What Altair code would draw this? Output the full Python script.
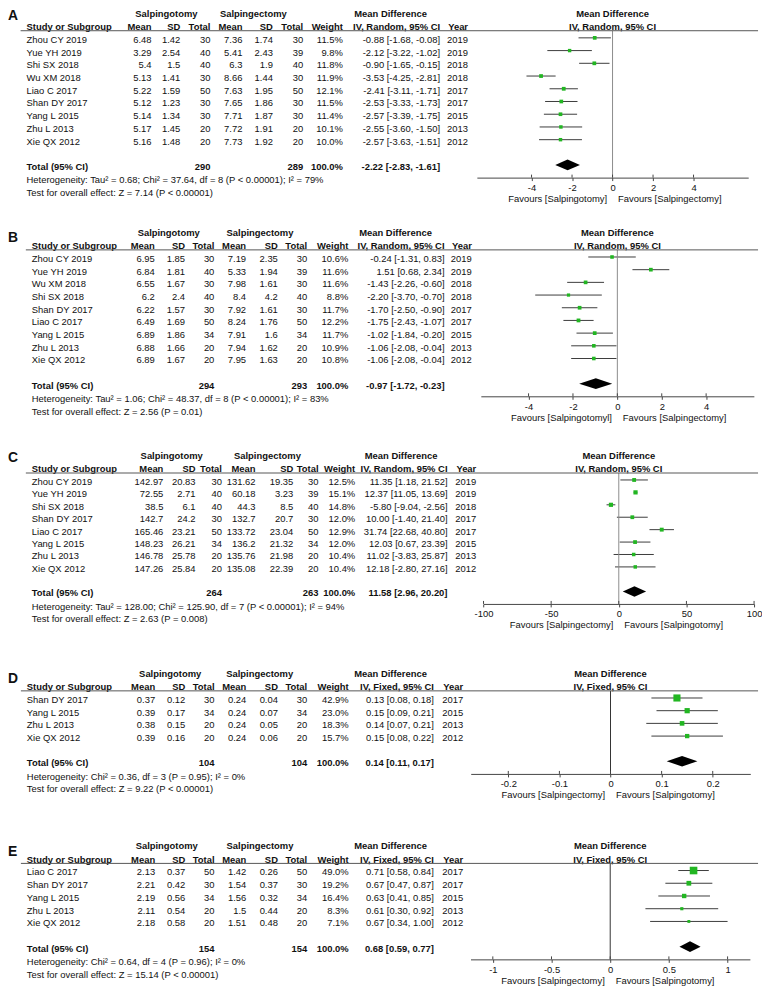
import altair as alt
import pandas as pd

# ------------------------------------------------------------------ data
A_study = ["Zhou CY 2019", "Yue YH 2019", "Shi SX 2018", "Wu XM 2018", "Liao C 2017",
           "Shan DY 2017", "Yang L 2015", "Zhu L 2013", "Xie QX 2012"]
A_mean1 = [6.48, 3.29, 5.4, 5.13, 5.22, 5.12, 5.14, 5.17, 5.16]
A_sd1 = [1.42, 2.54, 1.5, 1.41, 1.59, 1.23, 1.34, 1.45, 1.48]
A_n1 = [30, 40, 40, 30, 50, 30, 30, 20, 20]
A_mean2 = [7.36, 5.41, 6.3, 8.66, 7.63, 7.65, 7.71, 7.72, 7.73]
A_sd2 = [1.74, 2.43, 1.9, 1.44, 1.95, 1.86, 1.87, 1.91, 1.92]
A_n2 = [30, 39, 40, 30, 50, 30, 30, 20, 20]
A_weight = [11.5, 9.8, 11.8, 11.9, 12.1, 11.5, 11.4, 10.1, 10.0]
A_md = [-0.88, -2.12, -0.90, -3.53, -2.41, -2.53, -2.57, -2.55, -2.57]
A_lo = [-1.68, -3.22, -1.65, -4.25, -3.11, -3.33, -3.39, -3.60, -3.63]
A_hi = [-0.08, -1.02, -0.15, -2.81, -1.71, -1.73, -1.75, -1.50, -1.51]
A_year = [2019, 2019, 2018, 2018, 2017, 2017, 2015, 2013, 2012]
A_total = [-2.22, -2.83, -1.61]
A_het = "Heterogeneity: Tau\u00b2 = 0.68; Chi\u00b2 = 37.64, df = 8 (P < 0.00001); I\u00b2 = 79%"
A_test = "Test for overall effect: Z = 7.14 (P < 0.00001)"
A_favours = ["Favours [Salpingotomy]", "Favours [Salpingectomy]"]
A_ticks = [-4, -2, 0, 2, 4]

B_study = ["Zhou CY 2019", "Yue YH 2019", "Wu XM 2018", "Shi SX 2018", "Shan DY 2017",
           "Liao C 2017", "Yang L 2015", "Zhu L 2013", "Xie QX 2012"]
B_mean1 = [6.95, 6.84, 6.55, 6.2, 6.22, 6.49, 6.89, 6.88, 6.89]
B_sd1 = [1.85, 1.81, 1.67, 2.4, 1.57, 1.69, 1.86, 1.66, 1.67]
B_n1 = [30, 40, 30, 40, 30, 50, 34, 20, 20]
B_mean2 = [7.19, 5.33, 7.98, 8.4, 7.92, 8.24, 7.91, 7.94, 7.95]
B_sd2 = [2.35, 1.94, 1.61, 4.2, 1.61, 1.76, 1.6, 1.62, 1.63]
B_n2 = [30, 39, 30, 40, 30, 50, 34, 20, 20]
B_weight = [10.6, 11.6, 11.6, 8.8, 11.7, 12.2, 11.7, 10.9, 10.8]
B_md = [-0.24, 1.51, -1.43, -2.20, -1.70, -1.75, -1.02, -1.06, -1.06]
B_lo = [-1.31, 0.68, -2.26, -3.70, -2.50, -2.43, -1.84, -2.08, -2.08]
B_hi = [0.83, 2.34, -0.60, -0.70, -0.90, -1.07, -0.20, -0.04, -0.04]
B_year = [2019, 2019, 2018, 2018, 2017, 2017, 2015, 2013, 2012]
B_total = [-0.97, -1.72, -0.23]
B_het = "Heterogeneity: Tau\u00b2 = 1.06; Chi\u00b2 = 48.37, df = 8 (P < 0.00001); I\u00b2 = 83%"
B_test = "Test for overall effect: Z = 2.56 (P = 0.01)"
B_favours = ["Favours [Salpingotomyl]", "Favours [Salpingectomy]"]
B_ticks = [-4, -2, 0, 2, 4]

C_study = ["Zhou CY 2019", "Yue YH 2019", "Shi SX 2018", "Shan DY 2017", "Liao C 2017",
           "Yang L 2015", "Zhu L 2013", "Xie QX 2012"]
C_mean1 = [142.97, 72.55, 38.5, 142.7, 165.46, 148.23, 146.78, 147.26]
C_sd1 = [20.83, 2.71, 6.1, 24.2, 23.21, 26.21, 25.78, 25.84]
C_n1 = [30, 40, 40, 30, 50, 34, 20, 20]
C_mean2 = [131.62, 60.18, 44.3, 132.7, 133.72, 136.2, 135.76, 135.08]
C_sd2 = [19.35, 3.23, 8.5, 20.7, 23.04, 21.32, 21.98, 22.39]
C_n2 = [30, 39, 40, 30, 50, 34, 20, 20]
C_weight = [12.5, 15.1, 14.8, 12.0, 12.9, 12.0, 10.4, 10.4]
C_md = [11.35, 12.37, -5.80, 10.00, 31.74, 12.03, 11.02, 12.18]
C_lo = [1.18, 11.05, -9.04, -1.40, 22.68, 0.67, -3.83, -2.80]
C_hi = [21.52, 13.69, -2.56, 21.40, 40.80, 23.39, 25.87, 27.16]
C_year = [2019, 2019, 2018, 2017, 2017, 2015, 2013, 2012]
C_total = [11.58, 2.96, 20.20]
C_het = "Heterogeneity: Tau\u00b2 = 128.00; Chi\u00b2 = 125.90, df = 7 (P < 0.00001); I\u00b2 = 94%"
C_test = "Test for overall effect: Z = 2.63 (P = 0.008)"
C_favours = ["Favours [Salpingectomy]", "Favours [Salpingotomy]"]
C_ticks = [-100, -50, 0, 50, 100]

D_study = ["Shan DY 2017", "Yang L 2015", "Zhu L 2013", "Xie QX 2012"]
D_mean1 = [0.37, 0.39, 0.38, 0.39]
D_sd1 = [0.12, 0.17, 0.15, 0.16]
D_n1 = [30, 34, 20, 20]
D_mean2 = [0.24, 0.24, 0.24, 0.24]
D_sd2 = [0.04, 0.07, 0.05, 0.06]
D_n2 = [30, 34, 20, 20]
D_weight = [42.9, 23.0, 18.3, 15.7]
D_md = [0.13, 0.15, 0.14, 0.15]
D_lo = [0.08, 0.09, 0.07, 0.08]
D_hi = [0.18, 0.21, 0.21, 0.22]
D_year = [2017, 2015, 2013, 2012]
D_total = [0.14, 0.11, 0.17]
D_het = "Heterogeneity: Chi\u00b2 = 0.36, df = 3 (P = 0.95); I\u00b2 = 0%"
D_test = "Test for overall effect: Z = 9.22 (P < 0.00001)"
D_favours = ["Favours [Salpingectomy]", "Favours [Salpingotomy]"]
D_ticks = [-0.2, -0.1, 0, 0.1, 0.2]

E_study = ["Liao C 2017", "Shan DY 2017", "Yang L 2015", "Zhu L 2013", "Xie QX 2012"]
E_mean1 = [2.13, 2.21, 2.19, 2.11, 2.18]
E_sd1 = [0.37, 0.42, 0.56, 0.54, 0.58]
E_n1 = [50, 30, 34, 20, 20]
E_mean2 = [1.42, 1.54, 1.56, 1.5, 1.51]
E_sd2 = [0.26, 0.37, 0.32, 0.44, 0.48]
E_n2 = [50, 30, 34, 20, 20]
E_weight = [49.0, 19.2, 16.4, 8.3, 7.1]
E_md = [0.71, 0.67, 0.63, 0.61, 0.67]
E_lo = [0.58, 0.47, 0.41, 0.30, 0.34]
E_hi = [0.84, 0.87, 0.85, 0.92, 1.00]
E_year = [2017, 2017, 2015, 2013, 2012]
E_total = [0.68, 0.59, 0.77]
E_het = "Heterogeneity: Chi\u00b2 = 0.64, df = 4 (P = 0.96); I\u00b2 = 0%"
E_test = "Test for overall effect: Z = 15.14 (P < 0.00001)"
E_favours = ["Favours [Salpingectomy]", "Favours [Salpingotomy]"]
E_ticks = [-1, -0.5, 0, 0.5, 1]

GROUP1 = "Salpingotomy"
GROUP2 = "Salpingectomy"

# ------------------------------------------------------------------ style / layout
FONT = "Liberation Sans"
FS = 9.5
TXT = "#111111"
GREEN = "#22b622"
CI_COL = "#3c3c3c"
AX_COL = "#444444"
OFF = 8  # page margin

DE_COLS = dict(study=27, m1=156.3, s1=186.7, n1=216.2, m2=248.2, s2=280.1, n2=309.6,
               w=351.4, ci=437.3, yr=466.8, md=357, g1=170, g2=262)
LAYOUT = {
    "A": dict(step=12.83, extra=0.0, letter=-1.7, method="IV, Random, 95% CI",
              cols=dict(study=26.7, m1=152.7, s1=181.7, n1=212, m2=244.3, s2=275, n2=305.5,
                        w=345.5, ci=443.5, yr=471.7, md=357, g1=167.7, g2=255.3),
              dom=(-6.7, 6.7), rng=(480.6, 754.1), zero="#8c8c8c"),
    "B": dict(step=12.79, extra=0.0, letter=-1.52, method="IV, Random, 95% CI",
              cols=dict(study=32, m1=156, s1=186.5, n1=216, m2=248, s2=280, n2=309.5,
                        w=351, ci=448, yr=475.5, md=362, g1=170, g2=262),
              dom=(-6.15, 6.15), rng=(484.6, 759.8), zero="#8c8c8c"),
    "C": dict(step=12.52, extra=5.0, letter=-1.78, method="IV, Random, 95% CI",
              cols=dict(study=32, m1=164.6, s1=197, n1=223.6, m2=257.5, s2=295.5, n2=321,
                        w=358, ci=451, yr=480, md=367.6, g1=173, g2=269.5),
              dom=(-100, 100), rng=(487.3, 760.0), zero="#8c8c8c"),
    "D": dict(step=12.8, extra=15.7, letter=-1.46, method="IV, Fixed, 95% CI",
              cols=dict(DE_COLS, g1=171.5, g2=261.7),
              dom=(-0.2735, 0.2735), rng=(474.4, 756.2), zero="#333333"),
    "E": dict(step=12.83, extra=17.7, letter=-1.48, method="IV, Fixed, 95% CI",
              cols=dict(DE_COLS, g1=168, g2=262),
              dom=(-1.19, 1.19), rng=(474.2, 755.8), zero="#333333"),
}
SPACING = 71.9
WIDTH = 756
LINE_RIGHT = 764

PANELS = {
    "A": dict(study=A_study, m1=A_mean1, s1=A_sd1, n1=A_n1, m2=A_mean2, s2=A_sd2, n2=A_n2,
              w=A_weight, md=A_md, lo=A_lo, hi=A_hi, yr=A_year, tot=A_total, het=A_het,
              test=A_test, fav=A_favours, ticks=A_ticks),
    "B": dict(study=B_study, m1=B_mean1, s1=B_sd1, n1=B_n1, m2=B_mean2, s2=B_sd2, n2=B_n2,
              w=B_weight, md=B_md, lo=B_lo, hi=B_hi, yr=B_year, tot=B_total, het=B_het,
              test=B_test, fav=B_favours, ticks=B_ticks),
    "C": dict(study=C_study, m1=C_mean1, s1=C_sd1, n1=C_n1, m2=C_mean2, s2=C_sd2, n2=C_n2,
              w=C_weight, md=C_md, lo=C_lo, hi=C_hi, yr=C_year, tot=C_total, het=C_het,
              test=C_test, fav=C_favours, ticks=C_ticks),
    "D": dict(study=D_study, m1=D_mean1, s1=D_sd1, n1=D_n1, m2=D_mean2, s2=D_sd2, n2=D_n2,
              w=D_weight, md=D_md, lo=D_lo, hi=D_hi, yr=D_year, tot=D_total, het=D_het,
              test=D_test, fav=D_favours, ticks=D_ticks),
    "E": dict(study=E_study, m1=E_mean1, s1=E_sd1, n1=E_n1, m2=E_mean2, s2=E_sd2, n2=E_n2,
              w=E_weight, md=E_md, lo=E_lo, hi=E_hi, yr=E_year, tot=E_total, het=E_het,
              test=E_test, fav=E_favours, ticks=E_ticks),
}


def ci_str(e, l, h):
    return f"{e:.2f} [{l:.2f}, {h:.2f}]"


def build_panel(key):
    d = PANELS[key]
    L = LAYOUT[key]
    n = len(d["study"])
    step = L["step"]
    total_r = n + 0.98
    axis_r = total_r + 1.0
    hline_r = -0.56
    r_top = hline_r - L["extra"] / step
    H = (axis_r - r_top) * step
    c = {k: v - OFF for k, v in L["cols"].items()}

    ysc = alt.Scale(domain=[r_top, axis_r], reverse=True, nice=False, zero=False)
    xsc = alt.Scale(domain=list(L["dom"]), range=[L["rng"][0] - OFF, L["rng"][1] - OFF],
                    nice=False, zero=False)
    xaxis = alt.Axis(
        values=d["ticks"], title=None, grid=False, orient="bottom",
        labelExpr="'' + datum.value", labelFont=FONT, labelFontSize=FS,
        labelColor=TXT, labelPadding=2, labelFlush=False, labelOverlap=False,
        tickSize=3, tickColor=AX_COL, domainColor=AX_COL, domainWidth=1, tickWidth=1)

    def X(field):
        return alt.X(f"{field}:Q", scale=xsc, axis=xaxis)

    Y = alt.Y("r:Q", scale=ysc, axis=None)
    mid = (L["dom"][0] + L["dom"][1]) / 2

    rows = pd.DataFrame({
        "r": list(range(n)),
        "study": d["study"],
        "m1": [str(v) for v in d["m1"]],
        "s1": [str(v) for v in d["s1"]],
        "n1": [str(v) for v in d["n1"]],
        "m2": [str(v) for v in d["m2"]],
        "s2": [str(v) for v in d["s2"]],
        "n2": [str(v) for v in d["n2"]],
        "w": [f"{v:.1f}%" for v in d["w"]],
        "ci": [ci_str(e, l, h) for e, l, h in zip(d["md"], d["lo"], d["hi"])],
        "yr": [str(v) for v in d["yr"]],
        "md": d["md"], "lo": d["lo"], "hi": d["hi"],
        "sz": [1.2 * v for v in d["w"]],
    })

    layers = []

    # CI lines first (carry the axis)
    layers.append(alt.Chart(rows).mark_rule(color=CI_COL, strokeWidth=1).encode(
        x=X("lo"), x2="hi:Q", y=Y))

    # zero line
    layers.append(alt.Chart(pd.DataFrame({"x": [0], "r": [hline_r], "r2": [axis_r]})).mark_rule(
        color=L["zero"], strokeWidth=1).encode(x=X("x"), y=Y, y2="r2:Q"))

    # upper half of the axis ticks (ticks cross the axis line)
    tk = pd.DataFrame({"x": d["ticks"]})
    tk["r"] = axis_r - 3.0 / step
    tk["r2"] = axis_r
    layers.append(alt.Chart(tk).mark_rule(color=AX_COL, strokeWidth=1).encode(
        x=X("x"), y=Y, y2="r2:Q"))

    # squares
    layers.append(alt.Chart(rows).mark_square(color=GREEN, opacity=1, filled=True).encode(
        x=X("md"), y=Y, size=alt.Size("sz:Q", scale=None, legend=None)))

    # diamond
    est, lo, hi = d["tot"]
    dia = pd.DataFrame({"x": [lo, est, hi],
                        "r": [total_r, total_r - 0.42, total_r],
                        "r2": [total_r, total_r + 0.42, total_r]})
    layers.append(alt.Chart(dia).mark_area(color="black", opacity=1).encode(
        x=X("x"), y=Y, y2="r2:Q"))

    # plot headers
    for r_, t in [(-2.05, "Mean Difference"), (-1.02, L["method"])]:
        layers.append(alt.Chart(pd.DataFrame({"x": [mid], "r": [r_], "t": [t]})).mark_text(
            align="center", baseline="middle", dy=2, font=FONT, fontSize=FS,
            fontWeight="bold", color=TXT).encode(x=X("x"), y=Y, text="t:N"))

    # favours labels
    fav_r = axis_r + 21.5 / step
    fav = pd.DataFrame({"x": [0], "r": [fav_r], "a": [d["fav"][0]], "b": [d["fav"][1]]})
    layers.append(alt.Chart(fav).mark_text(
        align="right", baseline="middle", dx=-5.5, font=FONT, fontSize=FS, color=TXT).encode(
        x=X("x"), y=Y, text="a:N"))
    layers.append(alt.Chart(fav).mark_text(
        align="left", baseline="middle", dx=5.5, font=FONT, fontSize=FS, color=TXT).encode(
        x=X("x"), y=Y, text="b:N"))

    def txt(df, field, x, align, bold=False, size=FS, dy=2):
        return alt.Chart(df).mark_text(
            align=align, baseline="middle", dy=dy, font=FONT, fontSize=size,
            fontWeight="bold" if bold else "normal", color=TXT
        ).encode(x=alt.value(x), y=Y, text=f"{field}:N")

    def label(r, text, x, align, bold=False, size=FS, dy=2):
        return txt(pd.DataFrame({"r": [r], "t": [text]}), "t", x, align, bold, size, dy)

    # study rows
    layers.append(txt(rows, "study", c["study"], "left"))
    for f in ["m1", "s1", "n1", "m2", "s2", "n2", "w", "ci", "yr"]:
        layers.append(txt(rows, f, c[f], "right"))

    # headers
    gh_r, ch_r = -2.05, -1.02
    layers.append(label(L["letter"], key, 0, "left", True, 14, 0))
    layers.append(label(gh_r, GROUP1, c["g1"], "center", True))
    layers.append(label(gh_r, GROUP2, c["g2"], "center", True))
    layers.append(label(gh_r, "Mean Difference", c["md"], "left", True))
    layers.append(label(ch_r, "Study or Subgroup", c["study"], "left", True))
    for f, t in [("m1", "Mean"), ("s1", "SD"), ("n1", "Total"), ("m2", "Mean"),
                 ("s2", "SD"), ("n2", "Total"), ("w", "Weight"), ("ci", L["method"]),
                 ("yr", "Year")]:
        layers.append(label(ch_r, t, c[f], "right", True))

    # totals and footers
    layers.append(label(total_r, "Total (95% CI)", c["study"], "left", True))
    layers.append(label(total_r, str(sum(d["n1"])), c["n1"], "right", True))
    layers.append(label(total_r, str(sum(d["n2"])), c["n2"], "right", True))
    layers.append(label(total_r, "100.0%", c["w"], "right", True))
    layers.append(label(total_r, ci_str(*d["tot"]), c["ci"], "right", True))
    layers.append(label(total_r + 1.05, d["het"], c["study"], "left"))
    layers.append(label(total_r + 2.05, d["test"], c["study"], "left"))

    # header rule across table and plot
    layers.append(alt.Chart(pd.DataFrame({"r": [hline_r]})).mark_rule(
        color="#555555", strokeWidth=1).encode(
        x=alt.value(c["study"] - 6), x2=alt.value(LINE_RIGHT - OFF), y=Y))

    return alt.layer(*layers).properties(width=WIDTH, height=H)


chart = alt.vconcat(*[build_panel(k) for k in ["A", "B", "C", "D", "E"]],
                    spacing=SPACING, bounds="flush",
                    padding={"top": -4, "left": 0, "right": 0, "bottom": 0}
                    ).configure_view(stroke=None)

chart.save("out.html", embed_options={"renderer": "svg", "actions": False})
